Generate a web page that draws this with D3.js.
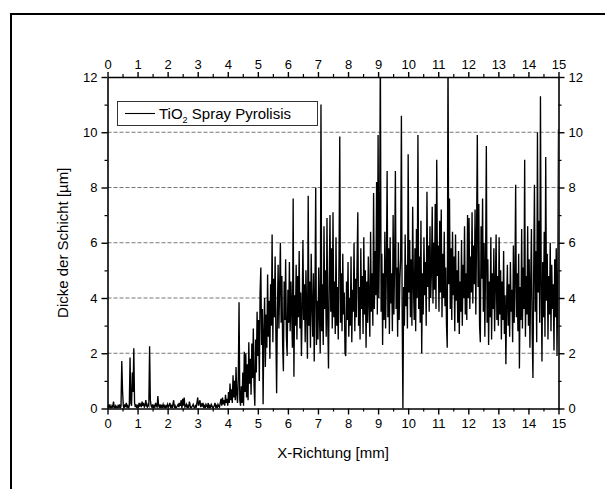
<!DOCTYPE html>
<html><head><meta charset="utf-8">
<script src="https://cdn.jsdelivr.net/npm/d3@7"></script>
<style>body{margin:0;background:#fff}svg{display:block}text{font-family:"Liberation Sans",Arial,sans-serif}</style>
</head><body>
<svg id="c" width="605" height="489"></svg>
<script>
// x positions: start + i*step (mm)
const xStart = 0, xStep = 0.025;
const xTicks = [0,1,2,3,4,5,6,7,8,9,10,11,12,13,14,15];
const yTicks = [0,2,4,6,8,10,12];
const gridValues = [2,4,6,8,10];
const seriesName = "TiO2 Spray Pyrolisis";
const xTitle = "X-Richtung [mm]";
const yTitle = "Dicke der Schicht [µm]";
// thickness values (µm)
const seg0 = [0.05,0.1,0,0.15,0.05,0,0.1,0.05,0.25,0.05,0,0.1,0.05,0,0.1,0.05,0.15,0,0.1,1.72,0.65,0.1,0,0.15,0.05,0.2,0.05,0.1,0,0.1,1.85,0.2,0.1,1.3,0.6,2.18,0.2,0.05,0.15,0];
const seg1 = [0.1,0.05,0.2,0.1,0.15,0.05,0.25,0.1,0.2,0.05,0.1,0.3,0.1,0.05,0.15,0.1,2.25,0.3,0.1,0.05,0.15,0,0.1,0.05,0.2,0.1,0.05,0.45,0.1,0.05,0.15,0,0.1,0.05,0.15,0.05,0.1,0,0.1,0.05];
const seg2 = [0.15,0.05,0.1,0.2,0.05,0.1,0,0.15,0.3,0.05,0.1,0,0.05,0.1,0.15,0.05,0.2,0.1,0.3,0,0.35,0.1,0.4,0.05,0.1,0.15,0,0.1,0.05,0.25,0.1,0,0.05,0.1,0.15,0.05,0,0.1,0.05,0.2];
const seg3 = [0.4,0.1,0.2,0.3,0.05,0.15,0.1,0.2,0.05,0.1,0,0.15,0.1,0.05,0.2,0,0.1,0.05,0.15,0.1,0,0.05,0.1,0.2,0.05,0.1,0,0.15,0.1,0.05,0.2,0.35,0.1,0.4,0.15,0.3,0.1,0.5,0.2,0.35];
const seg4 = [0.1,0.6,0.2,0.9,0.3,0.7,0.2,1.2,0.4,1.0,0.3,1.5,0.5,0.2,1.1,3.85,0.3,0.1,0.8,0.2,1.3,0.1,2.05,0.6,2.0,0.4,1.6,0.3,2.4,0.9,1.8,0.5,2.35,1.1,2.9,0.8,0.1,2.5,1.3,3.5];
const seg5 = [1.9,3.2,1.0,4.2,5.1,2.3,3.6,0.15,2.8,4.0,1.5,3.4,2.2,4.85,2.6,3.9,1.8,4.5,3.0,6.3,2.4,4.7,3.3,5.5,2.7,0.55,3.5,5.2,2.9,4.4,6.0,3.1,4.8,2.3,1.35,4.6,3.2,5.4,2.6,1.9];
const seg6 = [4.3,3.1,5.3,2.8,4.6,3.5,2.2,7.6,1.15,4.1,3.0,5.2,2.5,4.8,3.3,5.7,2.9,4.2,1.9,3.6,6.1,3.2,4.5,2.4,5.0,3.4,1.8,7.7,3.0,4.6,2.2,5.6,3.8,2.6,4.9,1.7,4.2,8.0,2.3,3.9];
const seg7 = [2.5,5.1,3.4,2.0,11.0,2.8,4.5,2.3,6.6,3.6,5.0,2.6,6.9,3.2,1.45,4.7,7.0,3.5,5.8,2.9,7.1,3.3,4.6,2.7,6.2,3.0,4.4,2.5,5.4,9.85,3.1,4.9,2.8,5.6,3.4,4.2,2.0,1.9,4.6,3.2];
const seg8 = [5.3,2.6,4.0,3.0,5.5,2.4,4.3,3.5,6.0,2.8,4.7,3.3,5.2,7.1,3.0,4.4,2.5,5.8,3.6,4.8,2.7,6.2,3.4,5.0,2.2,4.6,3.1,5.5,3.8,2.6,6.4,3.5,4.9,3.0,7.8,3.6,5.7,4.1,8.2,3.4];
const seg9 = [9.9,4.0,6.5,13.0,3.5,5.6,2.3,4.9,3.2,6.4,2.9,5.0,8.6,3.3,5.8,2.7,6.2,3.8,4.9,2.8,7.0,3.4,5.3,8.6,3.6,5.1,2.6,6.0,3.2,4.7,5.4,10.6,3.5,0,4.4,3.0,6.3,3.7,5.2,2.9];
const seg10 = [9.2,4.2,6.1,3.3,5.4,3.0,7.3,4.5,3.2,5.8,2.8,6.5,4.0,9.9,3.6,5.5,3.1,6.8,2.0,4.9,3.4,6.2,4.1,5.3,3.0,7.85,4.4,5.9,3.5,6.6,4.0,5.0,7.3,3.8,6.0,4.3,7.4,3.6,9.0,4.8];
const seg11 = [5.9,3.5,6.8,4.2,7.2,3.3,5.6,4.0,6.4,3.7,5.1,3.0,2.2,13.0,4.5,7.6,3.6,5.8,3.2,6.4,4.1,5.5,2.8,6.3,3.9,5.0,3.1,5.7,2.7,4.6,3.5,6.1,3.0,5.2,4.0,6.6,3.4,4.9,3.2,7.0];
const seg12 = [4.0,6.9,3.6,5.5,4.2,7.1,3.8,5.9,4.5,7.2,3.4,6.3,9.9,4.4,7.4,3.0,2.4,6.6,4.7,7.6,3.5,6.0,2.6,5.3,9.5,3.1,5.4,2.3,4.6,3.3,6.2,2.5,4.9,3.6,5.8,2.8,4.5,6.3,3.2,4.8];
const seg13 = [3.0,6.2,3.4,5.0,2.5,4.6,3.2,5.7,2.7,4.1,1.6,3.8,5.2,3.0,4.5,2.6,5.3,3.5,4.3,2.4,5.9,3.1,4.6,8.1,3.3,4.9,2.8,5.6,1.45,4.4,3.2,6.5,2.9,5.1,3.6,9.0,2.6,4.8,3.4,6.6];
const seg14 = [3.0,5.4,2.2,4.6,6.5,2.7,1.1,4.9,8.1,3.5,5.7,2.4,10.0,4.2,6.8,3.1,11.3,4.5,1.7,5.3,3.3,6.4,2.6,9.1,3.9,5.6,2.5,4.8,3.4,6.0,2.8,5.2,3.6,4.5,2.1,5.4,3.3,5.8,1.9,4.4,10.1];
const thickness = [].concat(seg0,seg1,seg2,seg3,seg4,seg5,seg6,seg7,seg8,seg9,seg10,seg11,seg12,seg13,seg14);

const svg = d3.select("#c");
const L = 107.5, R = 558.5, T = 77, B = 408.5;
const x = d3.scaleLinear().domain([0,15]).range([L,R]);
const y = d3.scaleLinear().domain([0,12]).range([B,T]);

// outer frame
svg.append("rect").attr("x",11).attr("y",14).attr("width",640).attr("height",520)
  .attr("fill","none").attr("stroke","#000").attr("stroke-width",2);

// grid
svg.append("g").selectAll("line").data(gridValues).join("line")
  .attr("x1",L).attr("x2",R).attr("y1",d=>y(d)).attr("y2",d=>y(d))
  .attr("stroke","#777").attr("stroke-width",1).attr("stroke-dasharray","4,2");

// clip
svg.append("clipPath").attr("id","clip").append("rect").attr("x",L).attr("y",T).attr("width",R-L).attr("height",B-T);

const pts = thickness.map((v,i)=>[xStart+i*xStep, v]);
svg.append("path").datum(pts).attr("clip-path","url(#clip)")
  .attr("fill","none").attr("stroke","#000").attr("stroke-width",1.35).attr("stroke-linejoin","miter")
  .attr("d", d3.line().x(d=>x(d[0])).y(d=>y(d[1])));

// axes
const minorX = d3.range(0.5,15,1);
const minorY = d3.range(1,12,2);
function styleAxis(g){
  g.select(".domain").attr("stroke-width",1.6);
  g.selectAll(".tick line").attr("stroke-width",1.4);
  g.selectAll("text").attr("font-size",13).attr("fill","#000");
}
const axB = svg.append("g").attr("transform",`translate(0,${B})`)
  .call(d3.axisBottom(x).tickValues(xTicks).tickSize(6).tickSizeOuter(0).tickPadding(4).tickFormat(d3.format("d")));
styleAxis(axB);
const axT = svg.append("g").attr("transform",`translate(0,${T})`)
  .call(d3.axisTop(x).tickValues(xTicks).tickSize(5).tickSizeOuter(0).tickPadding(3).tickFormat(d3.format("d")));
styleAxis(axT);
const axL = svg.append("g").attr("transform",`translate(${L},0)`)
  .call(d3.axisLeft(y).tickValues(yTicks).tickSize(6).tickSizeOuter(0).tickPadding(4).tickFormat(d3.format("d")));
styleAxis(axL);
const axR = svg.append("g").attr("transform",`translate(${R},0)`)
  .call(d3.axisRight(y).tickValues(yTicks).tickSize(6).tickSizeOuter(0).tickPadding(4).tickFormat(d3.format("d")));
styleAxis(axR);
// minor ticks
svg.append("g").attr("transform",`translate(0,${B})`).call(d3.axisBottom(x).tickValues(minorX).tickSize(3).tickFormat("")).call(g=>{g.select(".domain").remove();g.selectAll("line").attr("stroke-width",1.2);});
svg.append("g").attr("transform",`translate(0,${T})`).call(d3.axisTop(x).tickValues(minorX).tickSize(3).tickFormat("")).call(g=>{g.select(".domain").remove();g.selectAll("line").attr("stroke-width",1.2);});
svg.append("g").attr("transform",`translate(${L},0)`).call(d3.axisLeft(y).tickValues(minorY).tickSize(3).tickFormat("")).call(g=>{g.select(".domain").remove();g.selectAll("line").attr("stroke-width",1.2);});
svg.append("g").attr("transform",`translate(${R},0)`).call(d3.axisRight(y).tickValues(minorY).tickSize(3).tickFormat("")).call(g=>{g.select(".domain").remove();g.selectAll("line").attr("stroke-width",1.2);});

// titles
svg.append("text").attr("x",(L+R)/2).attr("y",458).attr("text-anchor","middle").attr("font-size",15).text(xTitle);
svg.append("text").attr("transform",`translate(68,${(T+B)/2}) rotate(-90)`).attr("text-anchor","middle").attr("font-size",15).text(yTitle);

// legend
const lg = svg.append("g");
lg.append("rect").attr("x",117.5).attr("y",101.5).attr("width",200).attr("height",24).attr("fill","#fff").attr("stroke","#333").attr("stroke-width",1);
lg.append("line").attr("x1",125).attr("x2",155).attr("y1",113.5).attr("y2",113.5).attr("stroke","#000").attr("stroke-width",1.1);
const lt = lg.append("text").attr("x",159).attr("y",119).attr("font-size",15);
lt.append("tspan").text("TiO");
lt.append("tspan").attr("font-size",9).attr("dy",4).text("2");
lt.append("tspan").attr("dy",-4).text(" Spray Pyrolisis");
</script>
</body></html>
